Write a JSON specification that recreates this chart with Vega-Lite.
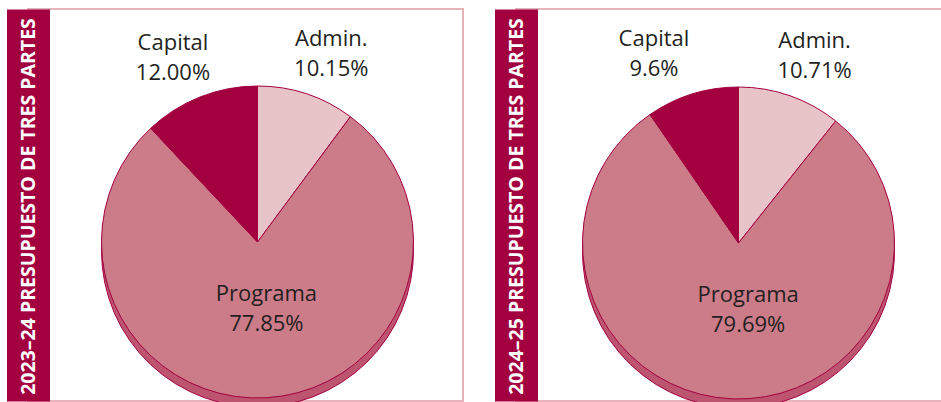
{
  "$schema": "https://vega.github.io/schema/vega-lite/v6.json",
  "background": "white",
  "padding": {"left": 16, "top": 8, "right": 0, "bottom": 0},
  "spacing": 40,
  "config": {
    "view": {"stroke": "#E6B3BB", "strokeWidth": 2},
    "font": "Open Sans"
  },
  "datasets": {
    "y2324": [
      {"part": "Admin", "value": 10.15, "order": 1, "label": "Admin.\n10.15%"},
      {"part": "Programa", "value": 77.85, "order": 2, "label": "Programa\n77.85%"},
      {"part": "Capital", "value": 12.00, "order": 3, "label": "Capital\n12.00%"}
    ],
    "y2425": [
      {"part": "Admin", "value": 10.71, "order": 1, "label": "Admin.\n10.71%"},
      {"part": "Programa", "value": 79.69, "order": 2, "label": "Programa\n79.69%"},
      {"part": "Capital", "value": 9.6, "order": 3, "label": "Capital\n9.6%"}
    ]
  },
  "hconcat": [
    {
      "width": 435,
      "height": 392,
      "data": {"name": "y2324"},
      "layer": [
        {
          "mark": {"type": "rule", "opacity": 0},
          "encoding": {
            "y": {
              "datum": 0,
              "type": "quantitative",
              "scale": {"domain": [0, 1]},
              "axis": {
                "orient": "left",
                "domain": true,
                "domainColor": "#A3003F",
                "domainWidth": 43,
                "ticks": false,
                "labels": false,
                "grid": false,
                "zindex": 1,
                "title": "2023–24 PRESUPUESTO DE TRES PARTES",
                "titleColor": "white",
                "titleFont": "Open Sans",
                "titleFontSize": 19.5,
                "titleFontWeight": "bold",
                "titleAngle": 270,
                "titleAlign": "center",
                "titleBaseline": "middle",
                "titleX": 0,
                "titleY": 197
              }
            }
          }
        },
        {
          "mark": {"type": "arc", "outerRadius": 156, "xOffset": 12, "yOffset": 46, "fill": "#BD5570", "stroke": "#A3003F", "strokeWidth": 1},
          "encoding": {
            "theta": {"field": "value", "type": "quantitative", "stack": true},
            "order": {"field": "order", "type": "quantitative"}
          }
        },
        {
          "mark": {"type": "arc", "outerRadius": 156, "xOffset": 12, "yOffset": 37, "stroke": "#A3003F", "strokeWidth": 1},
          "encoding": {
            "theta": {"field": "value", "type": "quantitative", "stack": true},
            "order": {"field": "order", "type": "quantitative"},
            "color": {
              "field": "part",
              "type": "nominal",
              "scale": {"domain": ["Admin", "Programa", "Capital"], "range": ["#E8C3C8", "#CC7C89", "#A3003F"]},
              "legend": null
            }
          }
        },
        {
          "mark": {"type": "text", "radius": 197, "xOffset": 12, "yOffset": 37, "dx": -12, "dy": -16, "fontSize": 22, "lineBreak": "\n", "lineHeight": 30, "align": "center", "baseline": "middle", "fill": "#231F20"},
          "encoding": {
            "theta": {"field": "value", "type": "quantitative", "stack": true},
            "order": {"field": "order", "type": "quantitative"},
            "text": {"condition": {"test": "datum.part === 'Capital'", "field": "label", "type": "nominal"}, "value": ""}
          }
        },
        {
          "mark": {"type": "text", "radius": 197, "xOffset": 12, "yOffset": 37, "dx": 12, "dy": -16, "fontSize": 22, "lineBreak": "\n", "lineHeight": 30, "align": "center", "baseline": "middle", "fill": "#231F20"},
          "encoding": {
            "theta": {"field": "value", "type": "quantitative", "stack": true},
            "order": {"field": "order", "type": "quantitative"},
            "text": {"condition": {"test": "datum.part === 'Admin'", "field": "label", "type": "nominal"}, "value": ""}
          }
        },
        {
          "mark": {"type": "text", "radius": 67, "xOffset": 12, "yOffset": 37, "dx": 5, "dy": -15, "fontSize": 22, "lineBreak": "\n", "lineHeight": 30, "align": "center", "baseline": "middle", "fill": "#231F20"},
          "encoding": {
            "theta": {"field": "value", "type": "quantitative", "stack": true},
            "order": {"field": "order", "type": "quantitative"},
            "text": {"condition": {"test": "datum.part === 'Programa'", "field": "label", "type": "nominal"}, "value": ""}
          }
        }
      ]
    },
    {
      "width": 430,
      "height": 392,
      "data": {"name": "y2425"},
      "layer": [
        {
          "mark": {"type": "rule", "opacity": 0},
          "encoding": {
            "y": {
              "datum": 0,
              "type": "quantitative",
              "scale": {"domain": [0, 1]},
              "axis": {
                "orient": "left",
                "domain": true,
                "domainColor": "#A3003F",
                "domainWidth": 43,
                "ticks": false,
                "labels": false,
                "grid": false,
                "zindex": 1,
                "title": "2024–25 PRESUPUESTO DE TRES PARTES",
                "titleColor": "white",
                "titleFont": "Open Sans",
                "titleFontSize": 19.5,
                "titleFontWeight": "bold",
                "titleAngle": 270,
                "titleAlign": "center",
                "titleBaseline": "middle",
                "titleX": 0,
                "titleY": 197
              }
            }
          }
        },
        {
          "mark": {"type": "arc", "outerRadius": 156, "xOffset": 7.5, "yOffset": 47, "fill": "#BD5570", "stroke": "#A3003F", "strokeWidth": 1},
          "encoding": {
            "theta": {"field": "value", "type": "quantitative", "stack": true},
            "order": {"field": "order", "type": "quantitative"}
          }
        },
        {
          "mark": {"type": "arc", "outerRadius": 156, "xOffset": 7.5, "yOffset": 38, "stroke": "#A3003F", "strokeWidth": 1},
          "encoding": {
            "theta": {"field": "value", "type": "quantitative", "stack": true},
            "order": {"field": "order", "type": "quantitative"},
            "color": {
              "field": "part",
              "type": "nominal",
              "scale": {"domain": ["Admin", "Programa", "Capital"], "range": ["#E8C3C8", "#CC7C89", "#A3003F"]},
              "legend": null
            }
          }
        },
        {
          "mark": {"type": "text", "radius": 197, "xOffset": 7.5, "yOffset": 38, "dx": -26, "dy": -16, "fontSize": 22, "lineBreak": "\n", "lineHeight": 30, "align": "center", "baseline": "middle", "fill": "#231F20"},
          "encoding": {
            "theta": {"field": "value", "type": "quantitative", "stack": true},
            "order": {"field": "order", "type": "quantitative"},
            "text": {"condition": {"test": "datum.part === 'Capital'", "field": "label", "type": "nominal"}, "value": ""}
          }
        },
        {
          "mark": {"type": "text", "radius": 197, "xOffset": 7.5, "yOffset": 38, "dx": 11, "dy": -16, "fontSize": 22, "lineBreak": "\n", "lineHeight": 30, "align": "center", "baseline": "middle", "fill": "#231F20"},
          "encoding": {
            "theta": {"field": "value", "type": "quantitative", "stack": true},
            "order": {"field": "order", "type": "quantitative"},
            "text": {"condition": {"test": "datum.part === 'Admin'", "field": "label", "type": "nominal"}, "value": ""}
          }
        },
        {
          "mark": {"type": "text", "radius": 67, "xOffset": 7.5, "yOffset": 38, "dx": 12, "dy": -15, "fontSize": 22, "lineBreak": "\n", "lineHeight": 30, "align": "center", "baseline": "middle", "fill": "#231F20"},
          "encoding": {
            "theta": {"field": "value", "type": "quantitative", "stack": true},
            "order": {"field": "order", "type": "quantitative"},
            "text": {"condition": {"test": "datum.part === 'Programa'", "field": "label", "type": "nominal"}, "value": ""}
          }
        }
      ]
    }
  ]
}
